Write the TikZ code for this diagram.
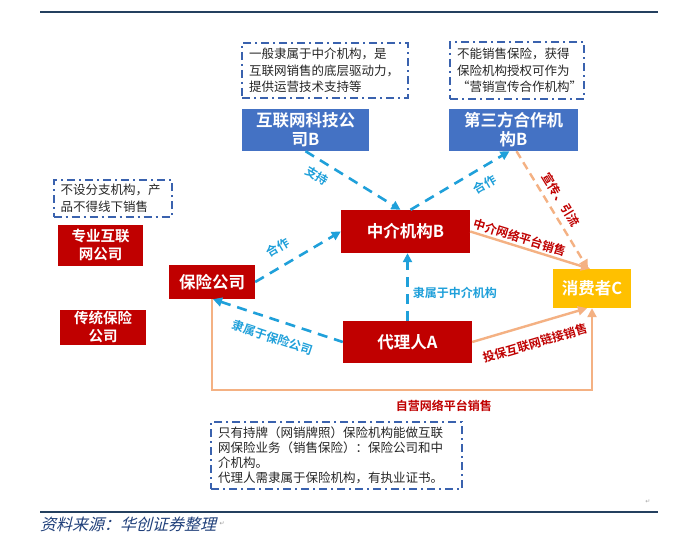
\documentclass[tikz,border=0pt]{standalone}
\usepackage{fontspec}
\setmainfont{Noto Sans CJK SC}[BoldFont={Noto Sans CJK SC Bold}]
\newfontfamily\srcfont{Noto Sans CJK SC}[FakeSlant=0.25]
\newfontfamily\markfont{DejaVu Sans}
\usepackage{xcolor}
\usetikzlibrary{arrows.meta}
\definecolor{boxred}{HTML}{C00000}
\definecolor{boxblue}{HTML}{4472C4}
\definecolor{boxyellow}{HTML}{FFC000}
\definecolor{linecyan}{HTML}{1FA0DA}
\definecolor{lineorange}{HTML}{F4B183}
\definecolor{noteblue}{HTML}{3A62AE}
\definecolor{rulenavy}{HTML}{24405F}
\definecolor{srcblue}{HTML}{1F3F7A}

\begin{document}
\begin{tikzpicture}[x=1pt,y=-1pt,
  redbox/.style={fill=boxred,text=white,font=\bfseries\fontsize{16.5}{19}\selectfont,align=center,inner sep=0pt},
  bluebox/.style={redbox,fill=boxblue},
  notebox/.style={draw=noteblue,line width=2pt,dash pattern=on 8pt off 4pt on 2pt off 4pt,
    align=left,inner xsep=7pt,inner ysep=0pt,text=black!85,font=\fontsize{12.5}{16.5}\selectfont},
  cyanline/.style={draw=linecyan,line width=2.6pt,dash pattern=on 10pt off 7pt,-{Triangle[length=9pt,width=9pt]}},
  orangeline/.style={draw=lineorange,line width=2.4pt,-{Triangle[length=9pt,width=9pt]}},
  cyanlabel/.style={text=linecyan,inner sep=1pt,font=\bfseries\fontsize{12}{12}\selectfont},
  redlabel/.style={text=boxred,inner sep=1pt,font=\bfseries\fontsize{12}{12}\selectfont}
]
  \useasboundingbox (0,0) rectangle (695,540);
  \fill[white] (0,0) rectangle (695,540);
  \draw[rulenavy,line width=1.8pt] (40,12) -- (658,12);
  \draw[rulenavy,line width=1.8pt] (40,512) -- (658,512);

  \node[notebox,text width=152pt,minimum height=55pt] (notetech) at (325,70.5)
    {一般隶属于中介机构，是\\互联网销售的底层驱动力，\\提供运营技术支持等};
  \node[notebox,text width=120pt,minimum height=57pt] (notethird) at (517,70.5)
    {不能销售保险，获得\\保险机构授权可作为\\“营销宣传合作机构”};
  \node[notebox,text width=104pt,minimum height=37pt] (notepro) at (112.5,198.5)
    {不设分支机构，产\\品不得线下销售};
  \node[notebox,text width=237pt,minimum height=67pt,font=\fontsize{12.5}{15}\selectfont] (notelaw) at (336.5,455.5)
    {只有持牌（网销牌照）保险机构能做互联\\网保险业务（销售保险）：保险公司和中\\介机构。\\代理人需隶属于保险机构，有执业证书。};

  \node[bluebox,minimum width=127pt,minimum height=42pt] (tech) at (305.5,130) {互联网科技公\\司B};
  \node[bluebox,minimum width=129pt,minimum height=42pt] (third) at (513.5,130) {第三方合作机\\构B};
  \node[redbox,font=\bfseries\fontsize{14.5}{18}\selectfont,minimum width=85pt,minimum height=41pt] (pro) at (100.5,245) {专业互联\\网公司};
  \node[redbox,font=\bfseries\fontsize{14.5}{18}\selectfont,minimum width=86pt,minimum height=35pt] (trad) at (103,327) {传统保险\\公司};
  \node[redbox,minimum width=86pt,minimum height=34pt] (ins) at (212,282) {保险公司};
  \node[redbox,minimum width=129pt,minimum height=43pt] (med) at (405.5,231.5) {中介机构B};
  \node[redbox,minimum width=129pt,minimum height=42pt] (agent) at (407.5,342) {代理人A};
  \node[redbox,fill=boxyellow,minimum width=78pt,minimum height=39pt] (cons) at (592,288.5) {消费者C};

  \draw[cyanline] (tech.south) -- node[sloped,below=7pt,pos=0.2,cyanlabel] {支持} ([xshift=-5pt]med.north);
  \draw[cyanline] ([xshift=5pt]med.north) -- node[sloped,below=8pt,pos=0.67,cyanlabel] {合作} ([xshift=-4pt]third.south);
  \draw[cyanline] (ins.east) -- node[sloped,above=10pt,pos=0.37,cyanlabel] {合作} (med.west);
  \draw[cyanline,{Triangle[length=9pt,width=9pt]}-] ([xshift=1pt]ins.south) -- node[sloped,below=10pt,pos=0.5,cyanlabel] {隶属于保险公司} (agent.west);
  \draw[cyanline] (agent.north) -- node[right=3pt,pos=0.41,cyanlabel] {隶属于中介机构} (agent.north |- med.south);

  \draw[orangeline] (med.east) -- node[sloped,above=1pt,pos=0.39,redlabel] {中介网络平台销售} ([xshift=-2pt]cons.north);
  \draw[orangeline,dash pattern=on 8pt off 5pt] ([xshift=3pt]third.south) -- node[sloped,above=5pt,pos=0.47,redlabel] {宣传、引流} ([xshift=-4pt]cons.north);
  \draw[orangeline] (agent.east) -- node[sloped,below=11pt,pos=0.5,redlabel] {投保互联网链接销售} ([xshift=-5pt]cons.south);
  \draw[orangeline] (ins.south) -- (ins.south |- 0,390) -- node[below=8pt,pos=0.61,redlabel] {自营网络平台销售} (cons.south |- 0,390) -- (cons.south);

  \node[anchor=west,inner sep=0pt,text=srcblue,font=\fontsize{16}{16}\selectfont] (source) at (40,524)
    {\srcfont 资料来源：华创证券整理};
  \node[anchor=west,inner sep=0pt,text=black!40,font=\markfont\fontsize{6}{6}\selectfont] (srcmark) at ([xshift=3pt]source.east) {↵};
  \node[inner sep=0pt,text=black!35,font=\markfont\fontsize{6}{6}\selectfont] (parmark) at (648,502) {↵};
\end{tikzpicture}
\end{document}
